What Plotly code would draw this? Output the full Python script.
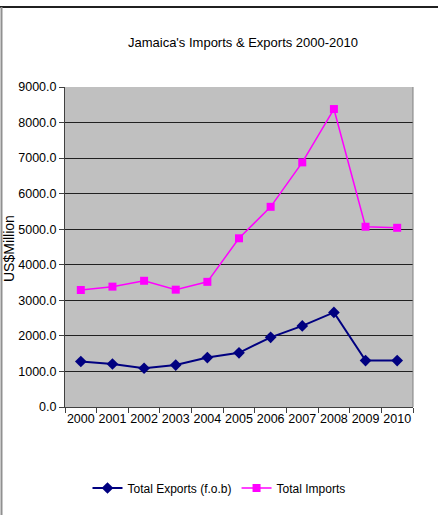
import plotly.graph_objects as go

years = ["2000", "2001", "2002", "2003", "2004", "2005", "2006", "2007", "2008", "2009", "2010"]
exports = [1280, 1210, 1090, 1180, 1390, 1525, 1960, 2280, 2660, 1305, 1305]
imports = [3290, 3385, 3550, 3300, 3520, 4745, 5630, 6880, 8380, 5070, 5040]
y_ticks = [0, 1000, 2000, 3000, 4000, 5000, 6000, 7000, 8000, 9000]
y_labels = ["%.1f" % v for v in y_ticks]

FONT = "Liberation Sans, Arial, sans-serif"

W, H = 438, 515
L, R, T, B = 65, 25, 87, 108
pw, ph = W - L - R, H - T - B

def px(x):
    return (x - L) / pw

def py(y):
    return (H - B - y) / ph

fig = go.Figure()
fig.add_trace(go.Scatter(
    x=years, y=exports, name="Total Exports (f.o.b)", mode="lines+markers",
    line=dict(color="#000080", width=2),
    marker=dict(symbol="diamond", size=9, color="#000080"),
))
fig.add_trace(go.Scatter(
    x=years, y=imports, name="Total Imports", mode="lines+markers",
    line=dict(color="#FF00FF", width=1.5),
    marker=dict(symbol="square", size=8, color="#FF00FF"),
))

fig.update_layout(
    width=W, height=H,
    margin=dict(l=L, r=R, t=T, b=B),
    paper_bgcolor="white",
    plot_bgcolor="#C0C0C0",
    title=dict(text="Jamaica's Imports & Exports 2000-2010", xref="container", x=243 / W, xanchor="center",
               y=1 - 42 / H, yanchor="middle",
               font=dict(family=FONT, size=13, color="black")),
    showlegend=True,
    legend=dict(orientation="h", x=px(219), xanchor="center", y=py(488), yanchor="middle",
                font=dict(family=FONT, size=12, color="black"),
                bgcolor="rgba(0,0,0,0)", itemwidth=30, tracegroupgap=0),
    xaxis=dict(
        type="category", showgrid=False, showline=True, linecolor="#404040", linewidth=1,
        ticks="outside", ticklen=5, tickcolor="#404040", tickson="boundaries",
        tickangle=0,
        tickfont=dict(family=FONT, size=12.5, color="black"),
        range=[-0.5, 10.5], fixedrange=True,
    ),
    yaxis=dict(
        range=[0, 9000], tickvals=y_ticks, ticktext=y_labels,
        showgrid=True, gridcolor="#202020", gridwidth=1,
        showline=True, linecolor="#404040", linewidth=1,
        ticks="outside", ticklen=5, tickcolor="#404040",
        tickfont=dict(family=FONT, size=12.5, color="black"),
        zeroline=False, fixedrange=True,
    ),
    annotations=[dict(
        text="US$Million", textangle=-90, x=px(9), y=py(249), xref="paper", yref="paper",
        xanchor="center", yanchor="middle",
        showarrow=False, font=dict(family=FONT, size=14, color="black"),
    )],
    shapes=[
        dict(type="line", xref="paper", yref="paper", x0=px(0), x1=px(438), y0=py(7), y1=py(7),
             line=dict(color="#202020", width=2)),
        dict(type="line", xref="paper", yref="paper", x0=px(1.5), x1=px(1.5), y0=py(7), y1=py(515),
             line=dict(color="#909090", width=2)),
        dict(type="line", xref="paper", yref="paper", x0=1, x1=1, y0=0, y1=1,
             line=dict(color="#808080", width=1)),
    ],
)

fig.write_html("out.html")
